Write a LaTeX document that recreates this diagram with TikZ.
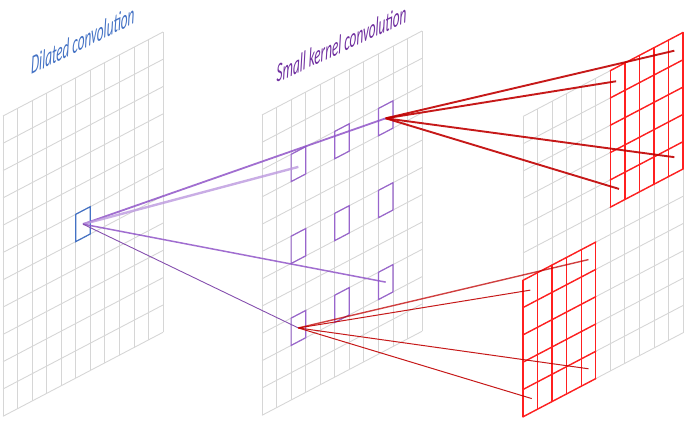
\documentclass[tikz,border=0pt]{standalone}
\usepackage{fontspec}
\setmainfont{Carlito}
\definecolor{gridgray}{HTML}{D6D6D6}
\definecolor{gridred}{HTML}{FF2020}
\definecolor{darkred}{HTML}{C00000}
\definecolor{kblue}{HTML}{4472C4}
\definecolor{kpurple}{HTML}{7030A0}
\definecolor{boxpurple}{HTML}{9966CC}
\definecolor{linepurple}{HTML}{9055C8}
\begin{document}
\begin{tikzpicture}[x=1pt,y=-1pt,
  gridline/.style={draw=gridgray,line width=0.9pt},
  redgrid/.style={draw=gridred,line width=1.4pt,line cap=round},
  pbox/.style={draw=boxpurple,line width=1.2pt},
  bbox/.style={draw=kblue,line width=1.2pt},
  plineA/.style={draw=linepurple,line width=1.8pt,opacity=0.85},
  plineB/.style={draw=linepurple!60,line width=2.4pt,opacity=0.8},
  plineC/.style={draw=linepurple,line width=1.5pt,opacity=0.85},
  plineD/.style={draw=kpurple!85,line width=0.9pt},
  rlineA/.style={draw=darkred,line width=1.9pt,opacity=0.9},
  rlineB/.style={draw=darkred,line width=1.0pt,opacity=0.9},
  lbl/.style={font=\fontsize{22}{26}\selectfont\itshape,anchor=base west,inner sep=0pt}
]
\useasboundingbox (0,0) rectangle (685,424);
% gray grids
\foreach \ox/\oy in {3/116, 262/115, 523/116.5}{
  \begin{scope}[shift={(\ox,\oy)}, x={(14.55pt,7.64pt)}, y={(0pt,-27.3pt)}]
    \foreach \i in {0,...,11}{
      \draw[gridline] (\i,0) -- (\i,11);
      \draw[gridline] (0,\i) -- (11,\i);
    }
  \end{scope}
}
% left grid: blue cell
\begin{scope}[shift={(3,116)}, x={(14.55pt,7.64pt)}, y={(0pt,-27.3pt)}]
  \draw[bbox] (5,5) -- (6,5) -- (6,6) -- (5,6) -- cycle;
  \coordinate (L55) at (5.5,5.5);
\end{scope}
% middle grid: dilated cells
\begin{scope}[shift={(262,115)}, x={(14.55pt,7.64pt)}, y={(0pt,-27.3pt)}]
  \foreach \c in {2,5,8}{
    \foreach \r in {2,5,8}{
      \draw[pbox] (\c,\r) -- ++(1,0) -- ++(0,1) -- ++(-1,0) -- cycle;
    }
  }
  \coordinate (M22) at (2.5,2.6);
  \coordinate (M82) at (8.5,2.5);
  \coordinate (M28) at (2.5,8.5);
  \coordinate (M88) at (8.5,8.5);
\end{scope}
% right grid: red receptive fields
\begin{scope}[shift={(523,116.5)}, x={(14.55pt,7.64pt)}, y={(0pt,-27.3pt)}]
  \foreach \i in {6,...,11}{\draw[redgrid] (\i,0) -- (\i,5);}
  \foreach \j in {0,...,5}{\draw[redgrid] (6,\j) -- (11,\j);}
  \foreach \i in {0,...,5}{\draw[redgrid] (\i,6) -- (\i,11);}
  \foreach \j in {6,...,11}{\draw[redgrid] (0,\j) -- (5,\j);}
  \coordinate (RaTL) at (6.4,0.5);
  \coordinate (RaTR) at (10.4,0.5);
  \coordinate (RaBL) at (6.6,4.5);
  \coordinate (RaBR) at (10.4,4.4);
  \coordinate (RbTL) at (0.5,6.5);
  \coordinate (RbTR) at (4.5,6.5);
  \coordinate (RbBL) at (0.6,10.5);
  \coordinate (RbBR) at (4.5,10.5);
\end{scope}
% purple connectors
\draw[plineA] (L55) -- (M82);
\draw[plineB] (L55) -- (M22);
\draw[plineC] (L55) -- (M88);
\draw[plineD] (L55) -- (M28);
% red connectors
\foreach \t in {RaTL,RaTR,RaBL,RaBR}{\draw[rlineA] (M82) -- (\t);}
\draw[rlineB,line width=1.4pt,opacity=0.75] (M28) -- (RbTR);
\foreach \t in {RbTL,RbBL,RbBR}{\draw[rlineB] (M28) -- (\t);}
% labels
\node[lbl,text=kblue,cm={0.6,0.3,0,1.22,(0,0)}] (tdil) at (31,75) {Dilated convolution};
\node[lbl,text=kpurple,cm={0.6,0.28,0,1.22,(0,0)}] (tsmall) at (276.5,83) {Small kernel convolution};
\end{tikzpicture}
\end{document}
